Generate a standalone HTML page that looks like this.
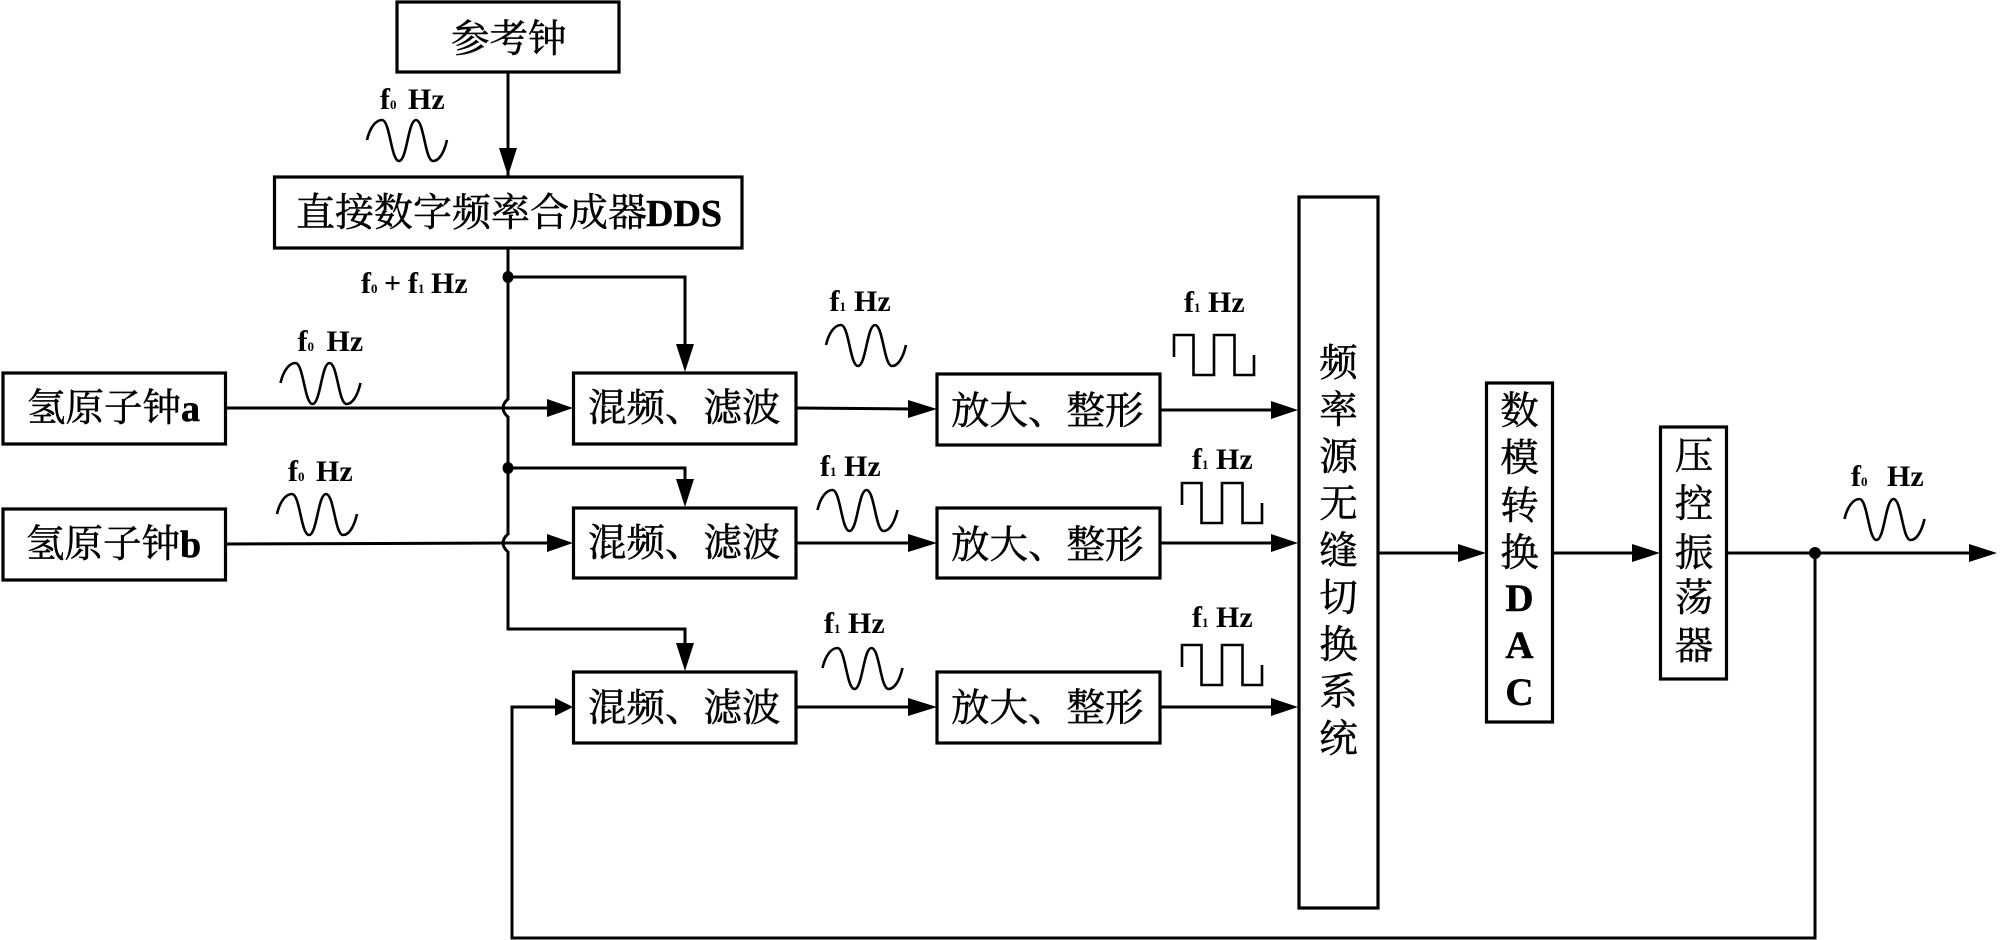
<!DOCTYPE html>
<html lang="zh">
<head>
<meta charset="utf-8">
<style>
html,body{margin:0;padding:0;background:#fff;width:2000px;height:940px;overflow:hidden}
svg{display:block}
.b{fill:#fff;stroke:#000;stroke-width:3.2}
.l{fill:none;stroke:#000;stroke-width:3}
.w{fill:none;stroke:#000;stroke-width:2.6}
.ah{fill:#000;stroke:none}
.c{font-family:"Liberation Serif","Noto Serif CJK SC",serif;font-size:38.5px;fill:#000;stroke:#000;stroke-width:.5}
.v{text-anchor:middle}
.ltn{font-family:"Liberation Serif",serif;font-weight:bold;fill:#000}
.f{font-family:"Liberation Serif",serif;font-weight:bold;font-size:30px;fill:#000}
.s{font-size:13px}
</style>
</head>
<body>
<svg width="2000" height="940" viewBox="0 0 2000 940" xmlns="http://www.w3.org/2000/svg">
<defs>
<path id="sw" class="w" d="M0,20 C3,7 9,0 15,0 C23,0 24,41 32,41 C40,41 41,0 49,0 C57,0 58,41 66,41 C72,41 77,33 80,20"/>
<path id="sq" class="w" d="M0,22 V0 H19.5 V40 H40 V0 H60.5 V40 H80 V20"/>
</defs>

<!-- connectors -->
<path class="l" d="M508,72 V177"/>
<path class="l" d="M508,248 V629 H685 V646"/>
<path class="l" d="M508,277 H685 V346"/>
<path class="l" d="M508,468 H685 V481"/>
<rect x="505" y="400" width="7" height="16" fill="#fff"/>
<rect x="505" y="535" width="7" height="16" fill="#fff"/>
<path class="l" d="M225,408 H550"/>
<path class="l" d="M225,544 L508,543 H550"/>
<path class="l" stroke-width="2.4" d="M508,399 Q498,408 508,417"/>
<path class="l" stroke-width="2.4" d="M508,534 Q498,543 508,552"/>
<path class="l" d="M555,707 H512 V938 H1815 V553"/>
<path class="l" d="M796,408 L912,409"/>
<path class="l" d="M796,543 H912"/>
<path class="l" d="M796,707 H912"/>
<path class="l" d="M1160,410 H1275"/>
<path class="l" d="M1160,543 H1275"/>
<path class="l" d="M1160,707 H1275"/>
<path class="l" d="M1378,553 H1462"/>
<path class="l" d="M1553,553 H1636"/>
<path class="l" d="M1727,553 H1972"/>

<!-- arrowheads -->
<path class="ah" d="M499,148 H517 L508,176 Z"/>
<path class="ah" d="M676,344 H694 L685,372 Z"/>
<path class="ah" d="M676,479 H694 L685,507 Z"/>
<path class="ah" d="M676,643 H694 L685,671 Z"/>
<path class="ah" d="M547,399 V417 L573,408 Z"/>
<path class="ah" d="M547,534 V552 L573,543 Z"/>
<path class="ah" d="M555,698 V716 L573,707 Z"/>
<path class="ah" d="M908,400 V418 L937,409 Z"/>
<path class="ah" d="M908,534 V552 L937,543 Z"/>
<path class="ah" d="M908,698 V716 L937,707 Z"/>
<path class="ah" d="M1271,401 V419 L1298,410 Z"/>
<path class="ah" d="M1271,534 V552 L1298,543 Z"/>
<path class="ah" d="M1271,698 V716 L1298,707 Z"/>
<path class="ah" d="M1458,544 V562 L1486,553 Z"/>
<path class="ah" d="M1632,544 V562 L1660,553 Z"/>
<path class="ah" d="M1969,544 V562 L1997,553 Z"/>

<!-- junctions -->
<ellipse class="ah" cx="508" cy="277" rx="5.5" ry="6"/>
<ellipse class="ah" cx="508" cy="468" rx="5.5" ry="6"/>
<circle class="ah" cx="1815" cy="553" r="6"/>

<!-- boxes -->
<rect class="b" x="397" y="2" width="222" height="70"/>
<rect class="b" x="274.500" y="177" width="467.500" height="71"/>
<rect class="b" x="3" y="373" width="222.500" height="71"/>
<rect class="b" x="3" y="509" width="222.500" height="71"/>
<rect class="b" x="573.500" y="373" width="222.500" height="71"/>
<rect class="b" x="573.500" y="508" width="222.500" height="70"/>
<rect class="b" x="573.500" y="672" width="222.500" height="71"/>
<rect class="b" x="937" y="374" width="223" height="71"/>
<rect class="b" x="937" y="508" width="223" height="70"/>
<rect class="b" x="937" y="672" width="223" height="71"/>
<rect class="b" x="1299" y="197" width="79" height="711"/>
<rect class="b" x="1486.500" y="383" width="66" height="339"/>
<rect class="b" x="1660.500" y="427" width="66" height="252"/>

<!-- box text -->
<text class="c" x="451" y="52">参考钟</text>
<text class="c" x="296" y="226" font-size="39" style="font-size:39px">直接数字频率合成器<tspan class="ltn" x="646" font-size="38" style="font-size:38px">DDS</tspan></text>
<text class="c" x="27" y="421">氢原子钟<tspan class="ltn" font-size="38">a</tspan></text>
<text class="c" x="26" y="557">氢原子钟<tspan class="ltn" font-size="38">b</tspan></text>
<text class="c" x="588" y="421">混频、滤波</text>
<text class="c" x="588" y="556">混频、滤波</text>
<text class="c" x="588" y="721">混频、滤波</text>
<text class="c" x="951" y="424">放大、整形</text>
<text class="c" x="951" y="558">放大、整形</text>
<text class="c" x="951" y="721">放大、整形</text>

<g class="c v" text-anchor="middle">
<text x="1338.500" y="376">频</text>
<text x="1338.500" y="423">率</text>
<text x="1338.500" y="470">源</text>
<text x="1338.500" y="517">无</text>
<text x="1338.500" y="564">缝</text>
<text x="1338.500" y="611">切</text>
<text x="1338.500" y="658">换</text>
<text x="1338.500" y="705">系</text>
<text x="1338.500" y="752">统</text>

<text x="1519.500" y="424">数</text>
<text x="1519.500" y="471">模</text>
<text x="1519.500" y="519">转</text>
<text x="1519.500" y="566">换</text>
<text class="ltn" font-size="39" x="1519.500" y="611">D</text>
<text class="ltn" font-size="39" x="1519.500" y="658">A</text>
<text class="ltn" font-size="39" x="1519.500" y="705">C</text>

<text x="1694" y="469">压</text>
<text x="1694" y="517">控</text>
<text x="1694" y="566">振</text>
<text x="1694" y="611">荡</text>
<text x="1694" y="659">器</text>
</g>

<!-- signals -->
<use href="#sw" x="367" y="120"/>
<use href="#sw" x="280.500" y="363"/>
<use href="#sw" x="277" y="494"/>
<use href="#sw" x="826" y="325"/>
<use href="#sw" x="817.500" y="490"/>
<use href="#sw" x="822.500" y="648"/>
<use href="#sw" x="1844.500" y="499"/>
<use href="#sq" x="1174" y="335"/>
<use href="#sq" x="1182" y="483"/>
<use href="#sq" x="1182" y="645"/>

<!-- labels -->
<text class="f" x="380" y="109">f<tspan class="s">0</tspan><tspan x="408">Hz</tspan></text>
<text class="f" x="361" y="293">f<tspan class="s">0</tspan><tspan x="384">+</tspan><tspan x="408">f</tspan><tspan class="s">1</tspan><tspan x="431">Hz</tspan></text>
<text class="f" x="297.500" y="351">f<tspan class="s">0</tspan><tspan x="326.500">Hz</tspan></text>
<text class="f" x="288" y="481">f<tspan class="s">0</tspan><tspan x="316">Hz</tspan></text>
<text class="f" x="829.500" y="311">f<tspan class="s">1</tspan><tspan x="854">Hz</tspan></text>
<text class="f" x="820" y="476">f<tspan class="s">1</tspan><tspan x="844">Hz</tspan></text>
<text class="f" x="824" y="633">f<tspan class="s">1</tspan><tspan x="848">Hz</tspan></text>
<text class="f" x="1184" y="312">f<tspan class="s">1</tspan><tspan x="1208">Hz</tspan></text>
<text class="f" x="1192" y="469">f<tspan class="s">1</tspan><tspan x="1216">Hz</tspan></text>
<text class="f" x="1192" y="627">f<tspan class="s">1</tspan><tspan x="1216">Hz</tspan></text>
<text class="f" x="1851" y="486">f<tspan class="s">0</tspan><tspan x="1887">Hz</tspan></text>
</svg>
</body>
</html>
